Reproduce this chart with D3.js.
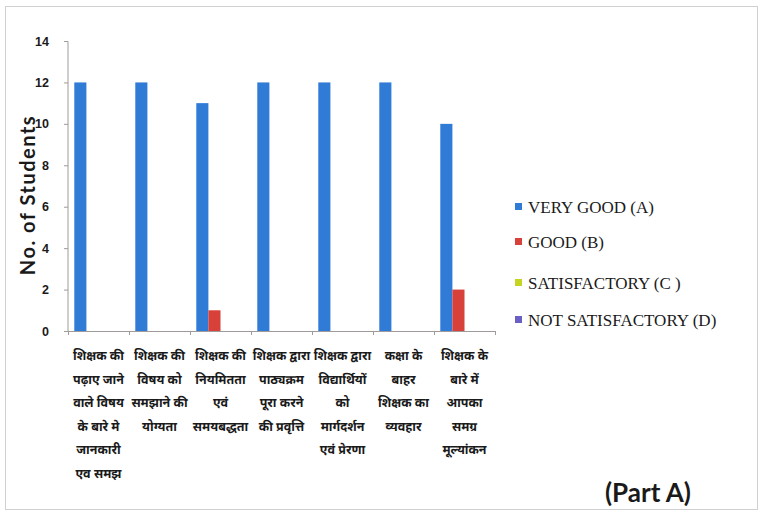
<!DOCTYPE html>
<html><head><meta charset="utf-8">
<script src="https://cdn.jsdelivr.net/npm/d3@7"></script>
<style>body{margin:0;background:#fff}svg{display:block}</style>
</head><body><svg id="c" width="759" height="515"></svg>
<script>
const categories = [
  ["शिक्षक की","पढ़ाए जाने","वाले विषय","के बारे मे","जानकारी","एव समझ"],
  ["शिक्षक की","विषय को","समझाने की","योग्यता"],
  ["शिक्षक की","नियमितता","एवं","समयबद्धता"],
  ["शिक्षक द्वारा","पाठ्यक्रम","पूरा करने","की प्रवृत्ति"],
  ["शिक्षक द्वारा","विद्यार्थियों","को","मार्गदर्शन","एवं प्रेरणा"],
  ["कक्षा के","बाहर","शिक्षक का","व्यवहार"],
  ["शिक्षक के","बारे में","आपका","समग्र","मूल्यांकन"]
];
const seriesNames = ["VERY GOOD (A)","GOOD (B)","SATISFACTORY (C )","NOT SATISFACTORY (D)"];
const veryGood = [12,12,11,12,12,12,10];
const good = [0,0,1,0,0,0,2];
const satisfactory = [0,0,0,0,0,0,0];
const notSatisfactory = [0,0,0,0,0,0,0];
const yTicks = [0,2,4,6,8,10,12,14];
const colors = ["#2f7bd6","#d8403a","#c6d320","#6a5fc2"];
const series = [veryGood, good, satisfactory, notSatisfactory];

const svg = d3.select("#c");
svg.append("rect").attr("x",5.5).attr("y",6.5).attr("width",752).attr("height",503)
  .attr("fill","none").attr("stroke","#d0d0d0");

const x0 = d3.scaleBand().domain(d3.range(categories.length)).range([68,495]).paddingInner(0).paddingOuter(0);
const x1 = d3.scaleBand().domain(d3.range(series.length)).range([0,x0.bandwidth()]).paddingOuter(0.52).paddingInner(0);
const y = d3.scaleLinear().domain([0,14]).range([331,41]);

// y axis
const ya = svg.append("g").attr("transform","translate(68,0)")
  .call(d3.axisLeft(y).tickValues(yTicks).tickSize(4).tickPadding(15));
ya.select(".domain").attr("stroke","#a09a9a").attr("d","M-4,41.5H0V331.5H-4");
ya.selectAll(".tick line").attr("stroke","#a09a9a");
ya.selectAll(".tick text").attr("font-family","'Liberation Sans Narrow','Liberation Sans',sans-serif")
  .attr("font-weight","bold").attr("font-size","12.5px").attr("fill","#1a1a1a");

// bars
categories.forEach((c,i)=>{
  series.forEach((s,j)=>{
    if (s[i] > 0) {
      svg.append("rect").attr("x",x0(i)+x1(j)).attr("y",y(s[i]))
        .attr("width",x1.bandwidth()).attr("height",y(0)-y(s[i])).attr("fill",colors[j]);
    }
  });
});

// x axis
const xa = svg.append("g").attr("transform","translate(0,331)");
xa.append("line").attr("x1",68).attr("x2",495).attr("y1",0.5).attr("y2",0.5).attr("stroke","#a09a9a");
d3.range(categories.length+1).forEach(i=>{
  const xx = i<categories.length ? x0(i) : x0.range()[1];
  xa.append("line").attr("x1",xx+0.5).attr("x2",xx+0.5).attr("y1",0).attr("y2",4).attr("stroke","#a09a9a");
});

// x labels
categories.forEach((lines,i)=>{
  const t = svg.append("text").attr("x",x0(i)+x0.bandwidth()/2).attr("y",360)
    .attr("text-anchor","middle").attr("font-family","'Noto Sans Devanagari','Lohit Devanagari','Noto Sans',sans-serif")
    .attr("font-size","12.5px").attr("font-weight","bold").attr("fill","#1a1a1a");
  lines.forEach((l,k)=>t.append("tspan").attr("x",x0(i)+x0.bandwidth()/2).attr("y",360+k*23.5).text(l));
});

// y label
svg.append("text").attr("transform","translate(35,195) rotate(-90)").attr("text-anchor","middle")
  .attr("font-family","Lato,'Open Sans',sans-serif").attr("font-weight","bold").attr("font-size","20px")
  .attr("letter-spacing","1.5px").attr("fill","#1a1a1a").text("No. of Students");

// legend
const legY = [207,242,283,320];
seriesNames.forEach((n,j)=>{
  svg.append("rect").attr("x",515).attr("y",legY[j]-4).attr("width",7).attr("height",7).attr("fill",colors[j]);
  svg.append("text").attr("x",528).attr("y",legY[j]+6)
    .style("font-family","\"Liberation Serif\", \"Times New Roman\", \"DejaVu Serif\", serif")
    .attr("font-size","17px").attr("fill","#1a1a1a").text(n);
});

// part label
svg.append("text").attr("x",648).attr("y",502).attr("text-anchor","middle")
  .attr("font-family","Lato,'Open Sans',sans-serif").attr("font-weight","bold").attr("font-size","26px")
  .attr("fill","#1a1a1a").text("(Part A)");
</script></body></html>
